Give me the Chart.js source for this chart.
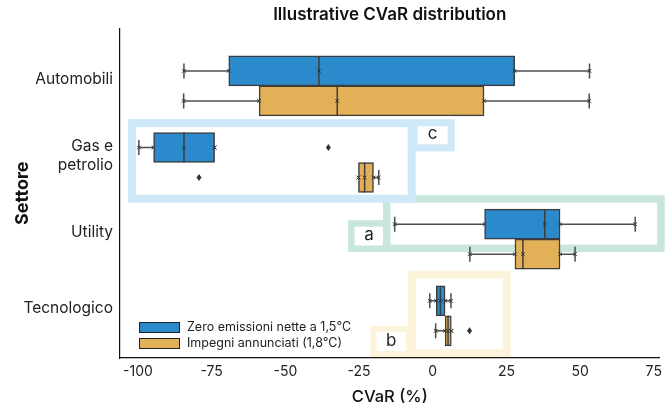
<!DOCTYPE html>
<html><head><meta charset="utf-8">
<script src="https://cdn.jsdelivr.net/npm/chart.js@4"></script>
<style>html,body{margin:0;padding:0;background:#fff}</style>
</head><body>
<canvas id="c" width="667" height="407"></canvas>
<script>
// ---------- data ----------
const categories = ['Automobili', ['Gas e', 'petrolio'], 'Utility', 'Tecnologico'];
const seriesNames = ['Zero emissioni nette a 1,5°C', 'Impegni annunciati (1,8°C)'];
const xTicks = [-100, -75, -50, -25, 0, 25, 50, 75];

// Zero emissioni nette a 1,5°C
const netZeroLow      = [-84.4, -99.7, -12.9, -1.0];
const netZeroQ1       = [-69.2, -94.7, 17.6, 1.2];
const netZeroMedian   = [-38.6, -84.4, 38.0, 2.6];
const netZeroQ3       = [27.8, -74.0, 43.2, 4.2];
const netZeroHigh     = [53.2, -74.0, 68.7, 6.2];
const netZeroOutliers = [[], [-35.4], [], []];

// Impegni annunciati (1,8°C)
const pledgesLow      = [-84.5, -25.2, 12.6, 1.0];
const pledgesQ1       = [-58.9, -25.2, 27.9, 4.2];
const pledgesMedian   = [-32.4, -23.1, 30.6, 5.2];
const pledgesQ3       = [17.4, -20.1, 43.2, 6.3];
const pledgesHigh     = [53.1, -18.3, 48.3, 6.3];
const pledgesOutliers = [[], [-79.3], [], [12.5]];

// highlight frames (data coordinates: x = CVaR, y = sector index)
const noteLetters = ['a', 'c', 'b'];
const noteFrames  = [[-15.59, 77.42, 1.4753, 2.1197], [-102.03, -7.12, 0.4865, 1.4727], [-7.05, 25.08, 2.4615, 3.4845]];
const noteTabs    = [[-27.63, -15.59, 1.7949, 2.1249], [-6.27, 6.27, 0.480, 0.8087], [-20.10, -8.14, 3.1690, 3.4977]];

// ---------- styling ----------
const FONT = 'Inter, "Liberation Sans", Arial, sans-serif';
const BLUE = '#2b8acc', ORANGE = '#e2b056', EDGE = '#3d3d3d';
const noteColors = ['#c8e6dc', '#cfe8f8', '#fdf2da'];
const noteWidths = [[7.5, 6.5], [8, 7], [7.7, 6]];

const stats = [
  {low: netZeroLow, q1: netZeroQ1, med: netZeroMedian, q3: netZeroQ3, high: netZeroHigh, out: netZeroOutliers},
  {low: pledgesLow, q1: pledgesQ1, med: pledgesMedian, q3: pledgesQ3, high: pledgesHigh, out: pledgesOutliers}
];

function boxData(s) {
  return categories.map((c, i) => ({ x: [s.q1[i], s.q3[i]], y: i }));
}

const extras = {
  id: 'boxExtras',
  beforeDatasetsDraw(chart) {
    const ctx = chart.ctx, xs = chart.scales.x, ys = chart.scales.y;
    ctx.save();
    noteFrames.forEach((f, k) => {
      ctx.strokeStyle = noteColors[k];
      const t = noteTabs[k];
      [[f, noteWidths[k][0]], [t, noteWidths[k][1]]].forEach(([r, w]) => {
        const x1 = xs.getPixelForValue(r[0]), x2 = xs.getPixelForValue(r[1]);
        const y1 = ys.getPixelForValue(r[2]), y2 = ys.getPixelForValue(r[3]);
        ctx.lineWidth = w;
        ctx.strokeRect(Math.min(x1, x2), Math.min(y1, y2), Math.abs(x2 - x1), Math.abs(y2 - y1));
      });
      ctx.fillStyle = '#222';
      ctx.font = '17px ' + FONT;
      ctx.textAlign = 'center';
      ctx.textBaseline = 'middle';
      ctx.fillText(noteLetters[k], xs.getPixelForValue((t[0] + t[1]) / 2), ys.getPixelForValue((t[2] + t[3]) / 2) - 1);
    });
    ctx.restore();
  },
  afterDatasetsDraw(chart) {
    const ctx = chart.ctx, xs = chart.scales.x;
    const px = v => xs.getPixelForValue(v);
    ctx.save();
    stats.forEach((s, d) => {
      const meta = chart.getDatasetMeta(d);
      meta.data.forEach((el, i) => {
        const y = el.y, h = el.height;
        ctx.strokeStyle = '#4d4d4d';
        ctx.lineWidth = 1.5;
        ctx.beginPath();
        if (s.low[i] < s.q1[i]) {
          ctx.moveTo(px(s.low[i]), y); ctx.lineTo(px(s.q1[i]), y);
          ctx.moveTo(px(s.low[i]), y - h / 4); ctx.lineTo(px(s.low[i]), y + h / 4);
        }
        if (s.high[i] > s.q3[i]) {
          ctx.moveTo(px(s.q3[i]), y); ctx.lineTo(px(s.high[i]), y);
          ctx.moveTo(px(s.high[i]), y - h / 4); ctx.lineTo(px(s.high[i]), y + h / 4);
        }
        ctx.stroke();
        // median
        ctx.strokeStyle = EDGE;
        ctx.lineWidth = 1.5;
        ctx.beginPath();
        ctx.moveTo(px(s.med[i]), y - h / 2); ctx.lineTo(px(s.med[i]), y + h / 2);
        ctx.stroke();
        // small stat markers
        ctx.strokeStyle = '#333';
        ctx.lineWidth = 1;
        ctx.beginPath();
        [s.low[i], s.q1[i], s.med[i], s.q3[i], s.high[i]].forEach(v => {
          const x = px(v);
          ctx.moveTo(x - 1.8, y - 1.8); ctx.lineTo(x + 1.8, y + 1.8);
          ctx.moveTo(x - 1.8, y + 1.8); ctx.lineTo(x + 1.8, y - 1.8);
        });
        ctx.stroke();
        // outliers
        ctx.fillStyle = '#333';
        s.out[i].forEach(v => {
          const x = px(v);
          ctx.beginPath();
          ctx.moveTo(x, y - 3.5); ctx.lineTo(x + 2.5, y); ctx.lineTo(x, y + 3.5); ctx.lineTo(x - 2.5, y);
          ctx.closePath(); ctx.fill();
        });
      });
    });
    ctx.restore();
  },
  afterDraw(chart) {
    const ctx = chart.ctx, a = chart.chartArea;
    ctx.save();
    chart.data.datasets.forEach((ds, k) => {
      const top = a.bottom - 36 + k * 16;
      ctx.fillStyle = ds.backgroundColor;
      ctx.fillRect(a.left + 19, top, 41, 10);
      ctx.strokeStyle = '#222';
      ctx.lineWidth = 1;
      ctx.strokeRect(a.left + 19.5, top + 0.5, 40, 10);
      ctx.fillStyle = '#222';
      ctx.font = '12.5px ' + FONT;
      ctx.textAlign = 'left';
      ctx.textBaseline = 'middle';
      ctx.fillText(ds.label, a.left + 67, top + 5.5);
    });
    ctx.restore();
  }
};

new Chart(document.getElementById('c'), {
  type: 'bar',
  data: {
    datasets: [
      { label: seriesNames[0], data: boxData(stats[0]), backgroundColor: BLUE, borderColor: EDGE, borderWidth: 1.5, borderSkipped: false },
      { label: seriesNames[1], data: boxData(stats[1]), backgroundColor: ORANGE, borderColor: EDGE, borderWidth: 1.5, borderSkipped: false }
    ]
  },
  options: {
    indexAxis: 'y',
    responsive: false,
    animation: false,
    barThickness: 30,
    grouped: true,
    layout: { padding: { left: 0, right: 7, top: 0, bottom: 0 } },
    plugins: {
      legend: { display: false },
      tooltip: { enabled: false },
      title: {
        display: true, text: 'Illustrative CVaR distribution', fullSize: false,
        color: '#111', font: { family: FONT, size: 17, weight: '600' }, padding: { top: 5, bottom: 3 }
      }
    },
    scales: {
      x: {
        type: 'linear', min: -106.1, max: 76.95,
        afterBuildTicks: s => { s.ticks = xTicks.map(v => ({ value: v })); },
        afterFit: s => { s.height = 49; },
        grid: { display: false, drawTicks: false },
        border: { display: true, color: '#111', width: 1.2 },
        ticks: { color: '#222', padding: 5, font: { family: FONT, size: 14 } },
        title: { display: true, text: 'CVaR (%)', color: '#111', font: { family: FONT, size: 16.5, weight: '500' }, padding: { top: 0, bottom: 0 } }
      },
      y: {
        type: 'linear', reverse: true, min: -0.75, max: 3.55, offset: false,
        afterBuildTicks: s => { s.ticks = categories.map((c, i) => ({ value: i })); },
        afterFit: s => { s.width = 120; },
        grid: { display: false, drawTicks: false, offset: false },
        border: { display: true, color: '#111', width: 1.2 },
        ticks: { color: '#222', padding: 7, labelOffset: -7, font: { family: FONT, size: 15.5, lineHeight: 1.25 }, callback: v => categories[v] },
        title: { display: true, text: 'Settore', color: '#111', font: { family: FONT, size: 18, weight: '700' }, padding: { top: 12, bottom: 0 } }
      }
    }
  },
  plugins: [extras]
});
</script>
</body></html>
